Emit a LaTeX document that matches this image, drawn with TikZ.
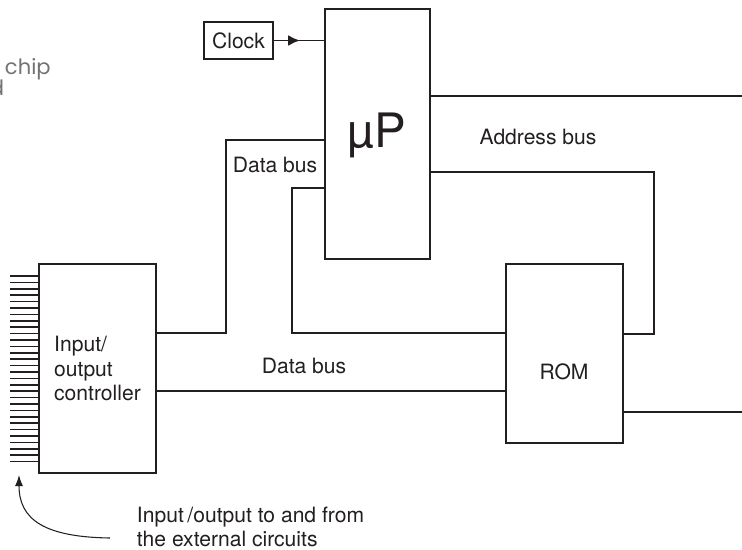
\documentclass[tikz,border=0pt]{standalone}
\usepackage{fontspec}
\setmainfont{TeX Gyre Heros}
\newfontfamily\geofont{Poppins}
\usepackage{tikz}
\usepackage{xcolor}
\usetikzlibrary{arrows.meta,decorations.markings}
\definecolor{ink}{HTML}{231F20}

\begin{document}
\begin{tikzpicture}[x=0.02cm, y=-0.02cm, line width=1.1pt, color=ink,
	box/.style={draw, rectangle, inner sep=0pt},
	lbl/.style={inner sep=0pt, font=\fontsize{12}{13.6}\selectfont},
	side/.style={inner sep=0pt, text=black!55, font=\geofont\fontsize{12}{13}\selectfont},
	busarrow/.style={postaction=decorate, decoration={markings, mark=at position 0.52 with {\arrow{Latex[length=2.4mm,width=2.2mm]}}}}]
					\useasboundingbox (0,0) rectangle (742,549);
					
					\node[box, minimum width=2.1cm, minimum height=5cm] (mp) at (377.5,134) {};
					\node[inner sep=0pt, anchor=base, font=\fontsize{27}{30}\selectfont] (mptxt) at (377,147) {µP};
					\node[box, lbl, minimum width=1.38cm, minimum height=0.74cm] (clk) at (238.5,40.5) {Clock};
					\node[box, lbl, minimum width=2.34cm, minimum height=4.18cm, align=left, font=\fontsize{12}{13.9}\selectfont] (io) at (97.5,368.5) {Input/\\output\\controller};
					\node[box, minimum width=2.34cm, minimum height=3.58cm] (rom) at (564.5,353.5) {};
					\node[lbl, anchor=base] (romtxt) at (564,379) {ROM};
					
					\draw[busarrow] (clk.east) -- (mp.west |- clk.east);
					\draw (mp.west |- 0,140) -- ++(-98,0) |- (io.east |- 0,333);
					\draw (mp.west |- 0,188) -- ++(-32,0) |- (rom.west |- 0,333);
					\draw (io.east |- 0,391) -- (rom.west |- 0,391);
					\draw (mp.east |- 0,172) -- ++(223,0) |- (rom.east |- 0,334);
					\coordinate (e1) at (742,96);
					\coordinate (e2) at (742,412);
					\draw (mp.east |- e1) -- (e1);
					\draw (rom.east |- e2) -- (e2);
					
					% pins of the controller
					\foreach \i [evaluate=\i as \yy using 276+6.4*\i] in {0,...,29}
						\draw[line width=1pt] (10,\yy) -- (io.west |- 0,\yy);
					
					\node[lbl, anchor=base] (ab) at (538,144) {Address bus};
					\node[lbl, anchor=base] (db1) at (275,172) {Data bus};
					\node[lbl, anchor=base] (db2) at (304,373) {Data bus};
					\node[lbl, anchor=south west, align=left, font=\fontsize{12}{13.6}\selectfont] (ext) at (136,548) {Input\,/output to and from\\the external circuits};
					\coordinate (cv) at (110,538);
					\coordinate (tp) at (19,475);
					\draw[line width=0.6pt, -{Latex[length=2.2mm,width=1.6mm]}] (cv) .. controls (45,537) and (19,520) .. (tp);
					
					% cut-off caption at the left edge
					\node[side, anchor=base west] (chip) at (4,74) {chip};
					\node[side, anchor=base east] (brd) at (5,95) {d};
				\end{tikzpicture}
\end{document}
